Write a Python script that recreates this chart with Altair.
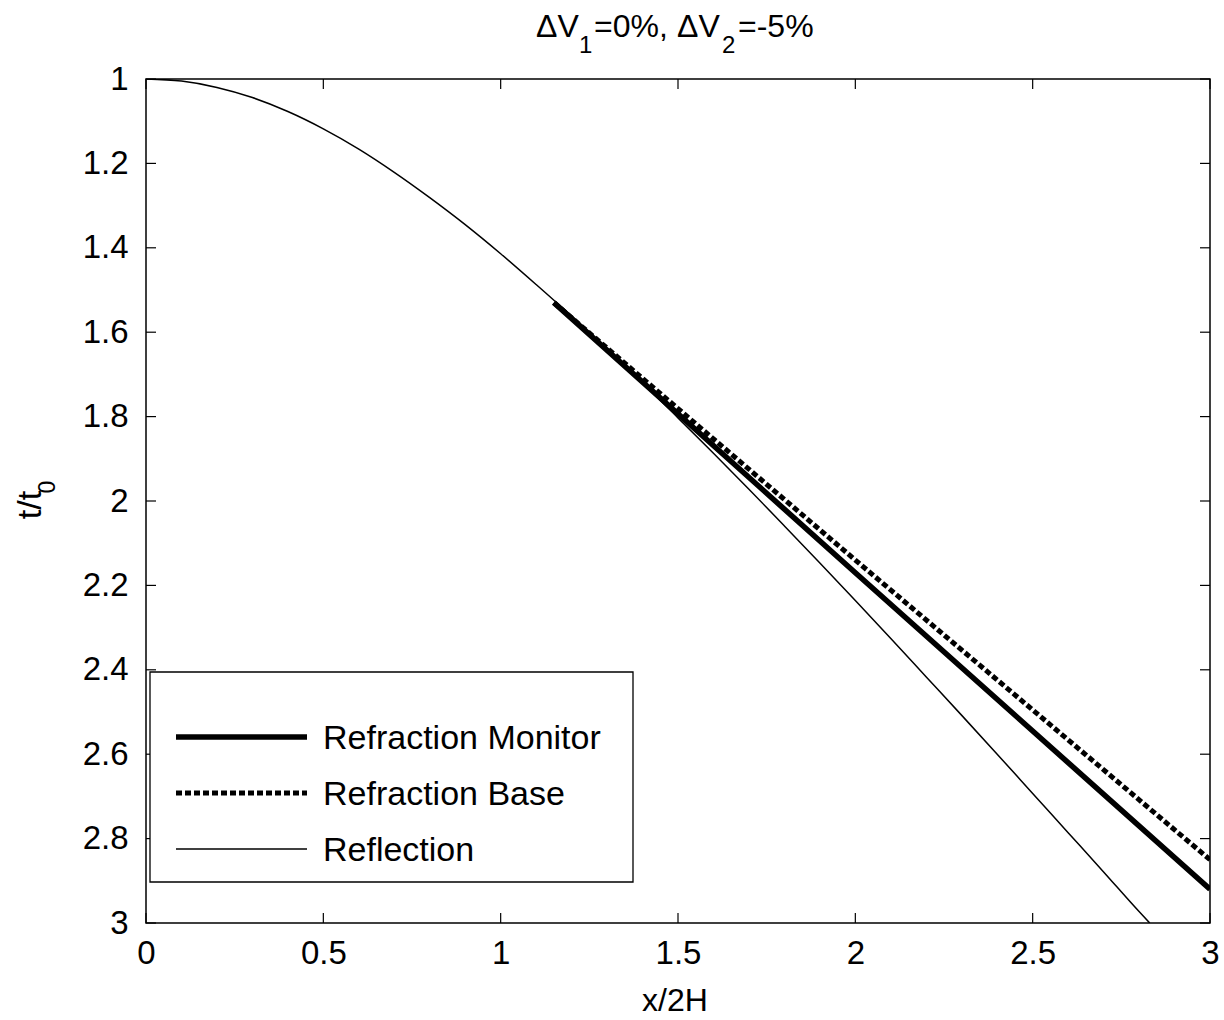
import altair as alt
import pandas as pd

# ---- data ----
refl_x = [0.0, 0.1, 0.2, 0.3, 0.4, 0.5, 0.6, 0.7, 0.8, 0.9, 1.0, 1.1, 1.2, 1.3, 1.4,
          1.5, 1.6, 1.7, 1.8, 1.9, 2.0, 2.1, 2.2, 2.3, 2.4, 2.5, 2.6, 2.7, 2.8, 2.83]
refl_t = [1.00, 1.005, 1.02, 1.044, 1.077, 1.118, 1.166, 1.221, 1.281, 1.345, 1.414,
          1.487, 1.562, 1.640, 1.720, 1.803, 1.887, 1.972, 2.059, 2.147, 2.236, 2.326,
          2.417, 2.508, 2.600, 2.693, 2.786, 2.879, 2.973, 3.00]
mon_x = [1.15, 2.0, 3.0]
mon_t = [1.53, 2.17, 2.92]
base_x = [1.15, 2.0, 3.0]
base_t = [1.53, 2.14, 2.85]
x_ticks = [0, 0.5, 1, 1.5, 2, 2.5, 3]
y_ticks = [1, 1.2, 1.4, 1.6, 1.8, 2, 2.2, 2.4, 2.6, 2.8, 3]
legend_names = ["Refraction Monitor", "Refraction Base", "Reflection"]
title_parts = ["\u0394V", "1", "=0%,", "\u0394V", "2", "=-5%"]

W, H = 1064, 844
FONT = "Liberation Sans"

xs = alt.Scale(domain=[0, 3], nice=False, zero=False)
ys = alt.Scale(domain=[1, 3], reverse=True, nice=False, zero=False)

xaxis = alt.Axis(values=x_ticks, format="~g", ticks=False, tickSize=0, domain=False,
                 grid=False, labelFontSize=33, labelFont=FONT, labelColor="black",
                 labelPadding=14, title=None, labelFlush=False, labelOverlap=False,
                 labelBound=False)
yaxis = alt.Axis(values=y_ticks, format="~g", ticks=False, tickSize=0, domain=False,
                 grid=False, labelFontSize=33, labelFont=FONT, labelColor="black",
                 labelPadding=18, title=None, labelFlush=False, labelOverlap=False,
                 labelBound=False)

X = alt.X("x:Q", scale=xs, axis=xaxis)
Y = alt.Y("t:Q", scale=ys, axis=yaxis)

refl_df = pd.DataFrame({"x": refl_x, "t": refl_t})
mon_df = pd.DataFrame({"x": mon_x, "t": mon_t})
base_df = pd.DataFrame({"x": base_x, "t": base_t})

mon = alt.Chart(mon_df).mark_line(color="black", strokeWidth=5.5, clip=True).encode(x=X, y=Y)
base = alt.Chart(base_df).mark_line(color="black", strokeWidth=5, strokeDash=[6, 3],
                                    clip=True).encode(x=X, y=Y)
refl = alt.Chart(refl_df).mark_line(color="black", strokeWidth=1.5, clip=True,
                                    interpolate="monotone").encode(x=X, y=Y)

xt = pd.DataFrame({"x": x_ticks})
yt = pd.DataFrame({"t": y_ticks})
tick_kw = dict(color="black", strokeWidth=1.2)
ticks_bottom = alt.Chart(xt).mark_rule(**tick_kw).encode(
    x=X, y=alt.value(H), y2=alt.value(H - 10))
ticks_top = alt.Chart(xt).mark_rule(**tick_kw).encode(
    x=X, y=alt.value(0), y2=alt.value(10))
ticks_left = alt.Chart(yt).mark_rule(**tick_kw).encode(
    y=Y, x=alt.value(0), x2=alt.value(10))
ticks_right = alt.Chart(yt).mark_rule(**tick_kw).encode(
    y=Y, x=alt.value(W), x2=alt.value(W - 10))

one = pd.DataFrame({"a": [0]})

# legend
leg_box = alt.Chart(one).mark_rect(fill="white", stroke="black", strokeWidth=1.3).encode(
    x=alt.value(4), x2=alt.value(487), y=alt.value(593), y2=alt.value(803))
leg_rows = [658, 714, 770]
leg_l1 = alt.Chart(one).mark_rule(color="black", strokeWidth=5.5).encode(
    x=alt.value(30), x2=alt.value(161), y=alt.value(leg_rows[0]))
leg_l2 = alt.Chart(one).mark_rule(color="black", strokeWidth=5, strokeDash=[6, 3]).encode(
    x=alt.value(30), x2=alt.value(161), y=alt.value(leg_rows[1]))
leg_l3 = alt.Chart(one).mark_rule(color="black", strokeWidth=1.5).encode(
    x=alt.value(30), x2=alt.value(161), y=alt.value(leg_rows[2]))
leg_texts = [
    alt.Chart(one).mark_text(align="left", baseline="middle", fontSize=34, font=FONT,
                             color="black").encode(
        x=alt.value(177), y=alt.value(r + 2), text=alt.value(n))
    for n, r in zip(legend_names, leg_rows)
]

# title with subscripts
def txt(s, x, y, size, **kw):
    return alt.Chart(one).mark_text(align="left", baseline="alphabetic", fontSize=size,
                                    font=FONT, color="black", **kw).encode(
        x=alt.value(x), y=alt.value(y), text=alt.value(s))

title_layers = [
    txt(title_parts[0], 390, -42, 32),
    txt(title_parts[1], 433, -26, 24),
    txt(title_parts[2], 448, -42, 32),
    txt(title_parts[3], 531, -42, 32),
    txt(title_parts[4], 576, -26, 24),
    txt(title_parts[5], 592, -42, 32),
]

ylab = alt.Chart(one).mark_text(angle=270, align="center", baseline="alphabetic",
                                fontSize=34, font=FONT, color="black").encode(
    x=alt.value(-105), y=alt.value(426), text=alt.value("t/t"))
ylab_sub = alt.Chart(one).mark_text(angle=270, align="center", baseline="alphabetic",
                                    fontSize=23, font=FONT, color="black").encode(
    x=alt.value(-91), y=alt.value(408), text=alt.value("0"))
xlab = alt.Chart(one).mark_text(align="center", baseline="alphabetic", fontSize=32,
                                font=FONT, color="black").encode(
    x=alt.value(529), y=alt.value(932), text=alt.value("x/2H"))

chart = alt.layer(
    mon, base, refl,
    ticks_bottom, ticks_top, ticks_left, ticks_right,
    leg_box, leg_l1, leg_l2, leg_l3, *leg_texts,
    *title_layers, ylab, ylab_sub, xlab,
).properties(
    width=W, height=H,
    autosize=alt.AutoSizeParams(type="none"),
    padding={"left": 146, "top": 79, "right": 14, "bottom": 97},
    background="white",
).configure_view(stroke="black", strokeWidth=1.5)

chart.save("out.html", embed_options={"renderer": "svg", "actions": False})
